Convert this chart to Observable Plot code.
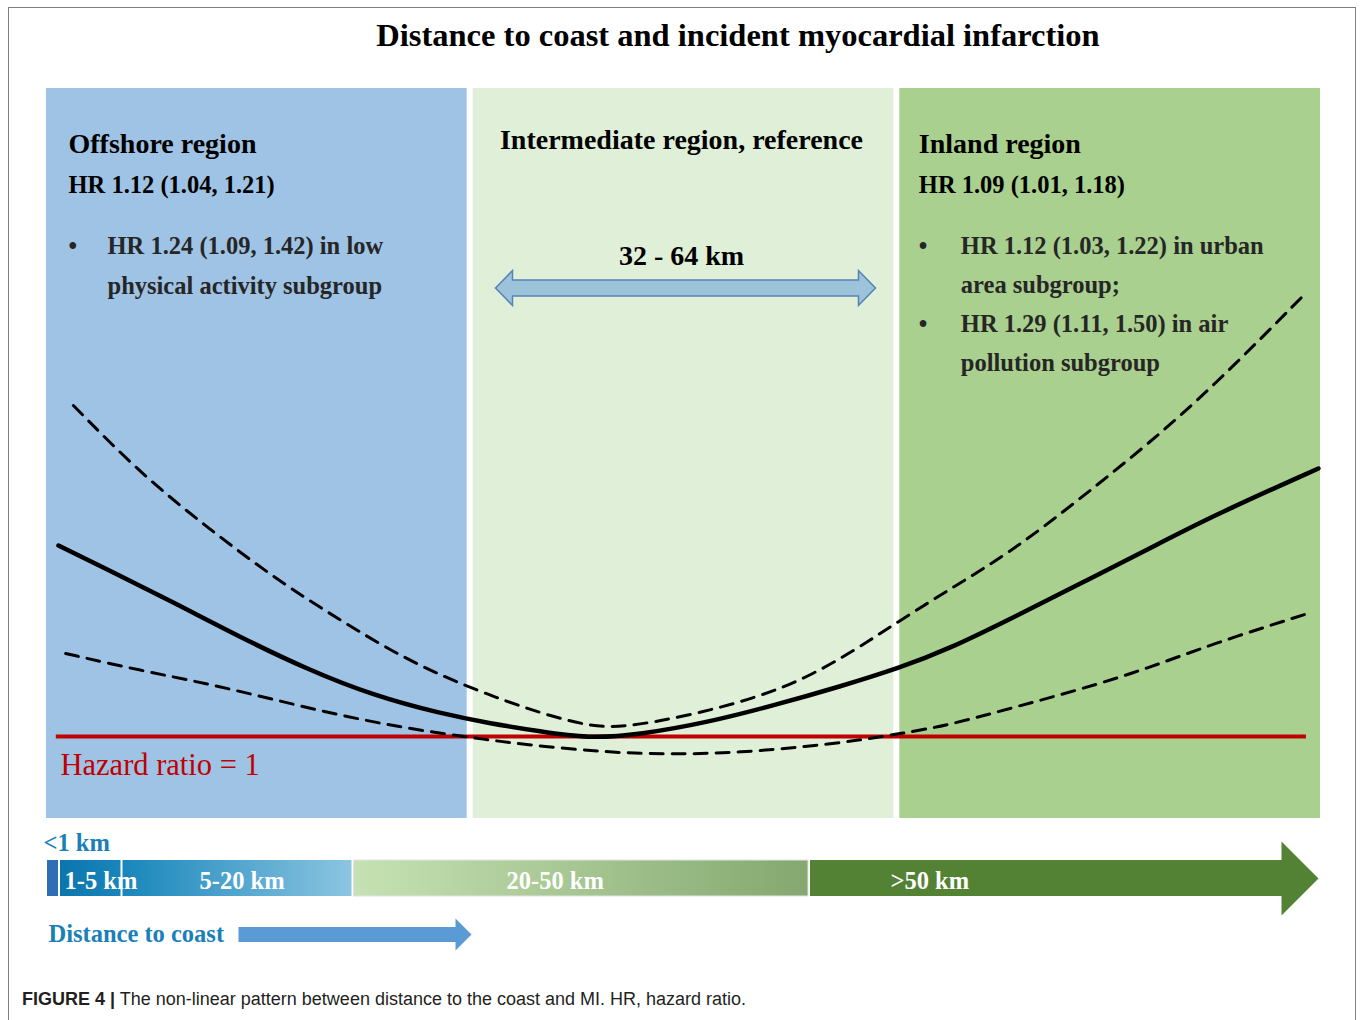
<!DOCTYPE html>
<html>
<head>
<meta charset="utf-8">
<script src="https://cdn.jsdelivr.net/npm/d3@7"></script>
<script src="https://cdn.jsdelivr.net/npm/@observablehq/plot@0.6"></script>
<style>
  html, body { margin: 0; padding: 0; background: #fff; width: 1360px; height: 1020px; overflow: hidden; }
  #chart { position: absolute; left: 0; top: 0; }
  #bar { position: absolute; left: 0; top: 820px; }
  #title { position: absolute; left: 238px; width: 1000px; top: 17px; text-align: center;
           font: bold 32.5px/36px "Liberation Serif", "Times New Roman", serif; color: #000; }
  #caption { position: absolute; left: 22px; top: 989px; white-space: nowrap;
             font: 18px/20px "Liberation Sans", Arial, sans-serif; color: #231f20; }
  #frame { position: absolute; left: 8px; top: 7px; width: 1346px; height: 1100px;
           border: 1px solid #7f7f7f; border-bottom: none; pointer-events: none; }
</style>
</head>
<body>
<div id="chart"></div>
<div id="bar"></div>
<div id="title">Distance to coast and incident myocardial infarction</div>
<div id="caption"><b>FIGURE 4 |</b> The non-linear pattern between distance to the coast and MI. HR, hazard ratio.</div>
<div id="frame"></div>
<script>
// ---------------- DATA ----------------
const regions = ["Offshore region", "Intermediate region, reference", "Inland region"];
const regionHR = ["HR 1.12 (1.04, 1.21)", "", "HR 1.09 (1.01, 1.18)"];
const offshoreNotes = ["HR 1.24 (1.09, 1.42) in low", "physical activity subgroup"];
const inlandNotes1 = ["HR 1.12 (1.03, 1.22) in urban", "area subgroup;"];
const inlandNotes2 = ["HR 1.29 (1.11, 1.50) in air", "pollution subgroup"];
const referenceRange = "32 - 64 km";
const hrReference = 1;
const hrReferenceLabel = "Hazard ratio = 1";
const referenceLineSpan = [0.03, 2.96];

// position along the coast-distance gradient (one unit per region) and hazard ratio
const estimatePos = [0.035, 0.150, 0.305, 0.462, 0.619, 0.773, 0.930, 1.048, 1.165, 1.275, 1.399, 1.556, 1.711, 1.868, 2.009, 2.119, 2.273, 2.430, 2.588, 2.742, 2.988];
const hrEstimate  = [1.191, 1.167, 1.134, 1.099, 1.067, 1.041, 1.023, 1.013, 1.005, 0.998, 1.002, 1.014, 1.031, 1.050, 1.069, 1.087, 1.119, 1.153, 1.187, 1.221, 1.268];

const upperPos = [0.070, 0.227, 0.384, 0.539, 0.696, 0.853, 1.008, 1.165, 1.282, 1.359, 1.516, 1.673, 1.791, 1.908, 1.978, 2.119, 2.273, 2.430, 2.588, 2.742, 2.953];
const hrUpper  = [1.331, 1.263, 1.209, 1.159, 1.116, 1.076, 1.047, 1.023, 1.010, 1.009, 1.021, 1.039, 1.059, 1.088, 1.108, 1.146, 1.186, 1.238, 1.292, 1.350, 1.441];

const lowerPos = [0.052, 0.227, 0.384, 0.539, 0.696, 0.853, 1.001, 1.125, 1.322, 1.477, 1.634, 1.791, 1.908, 2.009, 2.119, 2.273, 2.430, 2.588, 2.742, 2.963];
const hrLower  = [1.083, 1.066, 1.053, 1.037, 1.021, 1.008, 0.999, 0.992, 0.984, 0.982, 0.984, 0.990, 0.996, 1.003, 1.011, 1.029, 1.047, 1.068, 1.093, 1.123];

// distance bands along the bottom bar (km)
const bandLabels = ["<1 km", "1-5 km", "5-20 km", "20-50 km", ">50 km"];
const bandFromKm = [0, 1, 5, 20, 50];
const bandToKm   = [1, 5, 20, 50, 100];
const axisLabel = "Distance to coast";

// ---------------- STYLE ----------------
const serif = '"Liberation Serif", "Times New Roman", serif';
const regionFill = ["#9fc3e5", "#e0efd8", "#a9d08e"];
const noteColor = "#262626";
const blueText = "#1b7fb9";

function polygonSymbol(points) {
  return {
    draw(ctx) {
      ctx.moveTo(points[0][0], points[0][1]);
      for (let k = 1; k < points.length; ++k) ctx.lineTo(points[k][0], points[k][1]);
      ctx.closePath();
    }
  };
}
const doubleArrow = polygonSymbol([[-190,0],[-173,-17.5],[-173,-8],[173,-8],[173,-17.5],[190,0],[173,17.5],[173,8],[-173,8],[-173,17.5]]);
const bigHead = polygonSymbol([[-37,-37],[0,0],[-37,37]]);
const coastArrow = polygonSymbol([[-116.5,-7.5],[100.5,-7.5],[100.5,-16],[116.5,0],[100.5,16],[100.5,7.5],[-116.5,7.5]]);

// ---------------- CHART ----------------
const regionData = regions.map((name, i) => ({name, i}));
const pts = (xs, ys) => xs.map((x, k) => ({x, y: ys[k]}));

const bold = {fontFamily: serif, fontWeight: "bold", frameAnchor: "top", lineAnchor: "bottom"};

const chart = Plot.plot({
  width: 1360, height: 830,
  marginTop: 88, marginBottom: 12, marginLeft: 43, marginRight: 37,
  x: {domain: [0, 3], axis: null},
  y: {domain: [0.918, 1.648], axis: null},
  color: {domain: regions, range: regionFill},
  style: {background: "transparent", overflow: "visible"},
  marks: [
    Plot.rect(regionData, {x1: "i", x2: d => d.i + 1, fill: "name", insetLeft: 3, insetRight: 3}),
    Plot.ruleY([hrReference], {x1: referenceLineSpan[0], x2: referenceLineSpan[1], stroke: "#c00000", strokeWidth: 4}),
    Plot.line(pts(upperPos, hrUpper), {x: "x", y: "y", curve: "basis", stroke: "#000", strokeWidth: 3, strokeDasharray: "13,9"}),
    Plot.line(pts(lowerPos, hrLower), {x: "x", y: "y", curve: "basis", stroke: "#000", strokeWidth: 3, strokeDasharray: "13,9"}),
    Plot.line(pts(estimatePos, hrEstimate), {x: "x", y: "y", curve: "basis", stroke: "#000", strokeWidth: 4.5}),
    Plot.text([hrReferenceLabel], {x: 0, y: hrReference, text: d => d, textAnchor: "start", lineAnchor: "bottom",
      dx: 17, dy: 38, fontFamily: serif, fontSize: 30.5, fill: "#c00000"}),

    // region headings
    Plot.text([regions[0]], {...bold, x: 0, text: d => d, textAnchor: "start", dx: 25, dy: 64, fontSize: 28, fill: "#000"}),
    Plot.text([regions[2]], {...bold, x: 2, text: d => d, textAnchor: "start", dx: 22, dy: 64, fontSize: 28, fill: "#000"}),
    Plot.text([regions[1]], {...bold, x: 1.5, text: d => d, textAnchor: "middle", dx: -2, dy: 60, fontSize: 28, fill: "#000"}),
    Plot.text([regionHR[0]], {...bold, x: 0, text: d => d, textAnchor: "start", dx: 25, dy: 104, fontSize: 24.5, fill: "#000"}),
    Plot.text([regionHR[2]], {...bold, x: 2, text: d => d, textAnchor: "start", dx: 22, dy: 104, fontSize: 24.5, fill: "#000"}),

    // subgroup notes
    Plot.text(["•"], {...bold, x: 0, text: d => d, textAnchor: "start", dx: 25, dy: 165, fontSize: 24.5, fill: noteColor}),
    Plot.text([offshoreNotes[0]], {...bold, x: 0, text: d => d, textAnchor: "start", dx: 64, dy: 165, fontSize: 24.5, fill: noteColor}),
    Plot.text([offshoreNotes[1]], {...bold, x: 0, text: d => d, textAnchor: "start", dx: 64, dy: 205, fontSize: 24.5, fill: noteColor}),
    Plot.text(["•"], {...bold, x: 2, text: d => d, textAnchor: "start", dx: 22, dy: 165, fontSize: 24.5, fill: noteColor}),
    Plot.text([inlandNotes1[0]], {...bold, x: 2, text: d => d, textAnchor: "start", dx: 64, dy: 165, fontSize: 24.5, fill: noteColor}),
    Plot.text([inlandNotes1[1]], {...bold, x: 2, text: d => d, textAnchor: "start", dx: 64, dy: 204, fontSize: 24.5, fill: noteColor}),
    Plot.text(["•"], {...bold, x: 2, text: d => d, textAnchor: "start", dx: 22, dy: 243, fontSize: 24.5, fill: noteColor}),
    Plot.text([inlandNotes2[0]], {...bold, x: 2, text: d => d, textAnchor: "start", dx: 64, dy: 243, fontSize: 24.5, fill: noteColor}),
    Plot.text([inlandNotes2[1]], {...bold, x: 2, text: d => d, textAnchor: "start", dx: 64, dy: 282, fontSize: 24.5, fill: noteColor}),

    // reference range
    Plot.text([referenceRange], {...bold, x: 1.5, text: d => d, textAnchor: "middle", dx: -2, dy: 176, fontSize: 28, fill: "#000"}),
    Plot.dot([1.5], {x: d => d, frameAnchor: "top", dx: 2, dy: 199.5, symbol: doubleArrow, fill: "#9dc3db", stroke: "#5682b4", strokeWidth: 1.5})
  ]
});
document.getElementById("chart").append(chart);

// ---------------- DISTANCE BAR ----------------
const bands = bandLabels.map((label, i) => ({label, from: bandFromKm[i], to: bandToKm[i]}));
const gradients = [
  ["g15", "#0a76ad", "#1985bb"],
  ["g520", "#1886bb", "#8cc5e1"],
  ["g2050", "#c6e2b4", "#84a86f"]
];
const bandFill = ["#2e6eb5", "url(#g15)", "url(#g520)", "url(#g2050)"];
const bandStroke = ["none", "none", "none", "#e3e3e3"];
const bandLabelDx = [0, 5, 77.5, 153.5, 81];

const defsMark = () => {
  const ns = "http://www.w3.org/2000/svg";
  const defs = document.createElementNS(ns, "defs");
  for (const [id, a, b] of gradients) {
    const g = document.createElementNS(ns, "linearGradient");
    g.setAttribute("id", id);
    g.setAttribute("x1", "0"); g.setAttribute("x2", "1"); g.setAttribute("y1", "0"); g.setAttribute("y2", "0");
    for (const [off, c] of [["0", a], ["1", b]]) {
      const s = document.createElementNS(ns, "stop");
      s.setAttribute("offset", off); s.setAttribute("stop-color", c);
      g.append(s);
    }
    defs.append(g);
  }
  return defs;
};

const barText = {fontFamily: serif, fontWeight: "bold", fontSize: 24.5, lineAnchor: "bottom"};

const bar = Plot.plot({
  width: 1360, height: 150,
  marginTop: 40, marginBottom: 74, marginLeft: 46, marginRight: 42,
  x: {type: "linear", domain: [0, 1, 5, 20, 50, 100], range: [46, 59, 121.5, 352.5, 809, 1318], axis: null},
  style: {background: "transparent", overflow: "visible"},
  marks: [
    defsMark,
    ...bands.slice(0, 4).map((b, i) => Plot.rect([b], {x1: "from", x2: "to", fill: bandFill[i], stroke: bandStroke[i], strokeWidth: 1, insetLeft: 1, insetRight: 1})),
    Plot.rect([bands[4]], {x1: "from", x2: "to", fill: "#548235", insetLeft: 1, insetRight: 36}),
    Plot.dot([bands[4]], {x: "to", frameAnchor: "middle", symbol: bigHead, fill: "#548235", stroke: "none"}),
    Plot.text([bands[0]], {...barText, x: "from", text: "label", frameAnchor: "top", textAnchor: "start", dx: -3, dy: -10, fill: blueText}),
    ...bands.slice(1).map((b, i) => Plot.text([b], {...barText, x: "from", text: "label", frameAnchor: "middle", textAnchor: "start", dx: bandLabelDx[i + 1], dy: 10, fill: "#fff"})),
    Plot.text([axisLabel], {...barText, x: 0, text: d => d, frameAnchor: "bottom", textAnchor: "start", dx: 2, dy: 45, fill: blueText}),
    Plot.dot([bandFromKm[3]], {x: d => d, frameAnchor: "bottom", dx: 2, dy: 38, symbol: coastArrow, fill: "#5b9bd5", stroke: "none"})
  ]
});
document.getElementById("bar").append(bar);
</script>
</body>
</html>
